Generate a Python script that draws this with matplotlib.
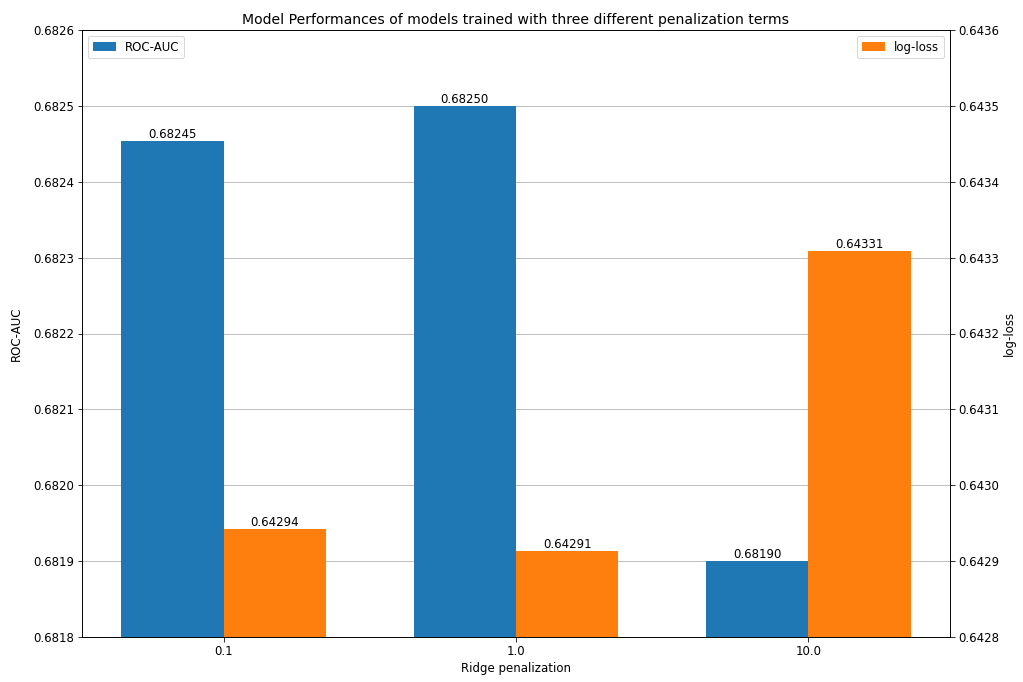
import matplotlib
matplotlib.use("Agg")
import matplotlib.pyplot as plt
import numpy as np

plt.rcParams["font.size"] = 11.7
plt.rcParams["xtick.major.size"] = 4.5
plt.rcParams["ytick.major.size"] = 4.5

categories = ["0.1", "1.0", "10.0"]
roc_auc = [0.682454, 0.682500, 0.681900]
log_loss = [0.642942, 0.642913, 0.643309]

fig = plt.figure(figsize=(1023 / 72, 682 / 72), dpi=72)
ax = fig.add_axes([82 / 1023, 1 - 637 / 682, (950 - 82) / 1023, (637 - 30) / 682])
ax2 = ax.twinx()

x = np.arange(len(categories))
width = 0.35
b1 = ax.bar(x - width / 2, roc_auc, width, color="#1f77b4", label="ROC-AUC")
b2 = ax2.bar(x + width / 2, log_loss, width, color="#ff7f0e", label="log-loss")

ax.set_ylim(0.6818, 0.6826)
ax2.set_ylim(0.6428, 0.6436)
ax.set_yticks(np.linspace(0.6818, 0.6826, 9))
ax2.set_yticks(np.linspace(0.6428, 0.6436, 9))
ax.yaxis.set_major_formatter(matplotlib.ticker.FormatStrFormatter("%.4f"))
ax2.yaxis.set_major_formatter(matplotlib.ticker.FormatStrFormatter("%.4f"))

ax.set_xticks(x)
ax.set_xticklabels(categories)
ax.set_axisbelow(True)
ax.grid(axis="y")

ax.bar_label(b1, fmt="%.5f")
ax2.bar_label(b2, fmt="%.5f")

ax.set_xlabel("Ridge penalization")
ax.set_ylabel("ROC-AUC", labelpad=10)
ax2.set_ylabel("log-loss")
ax.set_title("Model Performances of models trained with three different penalization terms")

ax.legend(loc="upper left")
ax2.legend(loc="upper right")

fig.savefig("out.png", dpi=72)
